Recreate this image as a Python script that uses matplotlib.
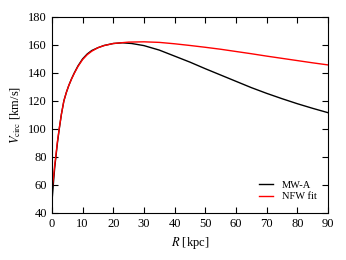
import numpy as np
import matplotlib
matplotlib.use("Agg")
from matplotlib import pyplot as plt

plt.rcParams['font.family'] = ['Liberation Serif', 'DejaVu Serif']
plt.rcParams['mathtext.fontset'] = 'stix'

# MW-A rotation curve
r_mw = [0.05, 0.45, 0.9, 1.3, 1.8, 2.4, 3.1, 3.9, 4.7, 5.5, 6.4, 7.3, 8.5, 10,
        11.5, 13, 15, 17, 20, 23, 26, 30, 35, 40, 45, 50, 55, 60, 65, 70, 75,
        80, 85, 90]
v_mw = [49, 60, 72, 80, 90, 100, 110.5, 120, 126, 131, 135.8, 140, 145, 150,
        153.5, 156, 158, 159.6, 161, 161.5, 161, 159.5, 156.3, 152, 147.7, 143,
        138.5, 134, 129.5, 125.4, 121.6, 118, 114.7, 111.6]

# NFW fit
r_nfw = [0.1, 0.5, 0.9, 1.3, 1.8, 2.4, 3.1, 3.9, 4.7, 5.5, 6.4, 7.3, 8.5, 10,
         11.5, 13, 15, 17, 20, 25, 30, 35, 40, 45, 50, 55, 60, 65, 70, 75, 80,
         85, 90]
v_nfw = [58, 65, 74, 81, 91, 100.5, 110.5, 120, 126, 131, 135.6, 139.7, 144.6,
         149.5, 153, 155.5, 158, 159.5, 161, 162, 162.2, 161.8, 160.8, 159.6,
         158.3, 156.9, 155.3, 153.7, 152, 150.4, 148.8, 147.2, 145.7]

fig = plt.figure(figsize=(3.46, 2.6), dpi=100)
ax = fig.add_axes([0.150, 0.181, 0.798, 0.754])

ax.plot(r_mw, v_mw, color='black', lw=1.0, label='MW-A')
ax.plot(r_nfw, v_nfw, color='red', lw=1.0, label='NFW fit')

ax.set_xlim(0, 90)
ax.set_ylim(40, 180)
ax.set_xticks(np.arange(0, 91, 10))
ax.set_yticks(np.arange(40, 181, 20))
ax.tick_params(direction='in', top=True, right=True, length=4.5, width=0.8,
               labelsize=9)
for s in ax.spines.values():
    s.set_linewidth(0.8)

ax.set_xlabel(r'$R$ [kpc]', fontsize=9)
ax.set_ylabel(r'$V_{\rm circ}$ [km/s]', fontsize=9)

ax.legend(loc='lower right', frameon=False, fontsize=7.5, handlelength=1.4,
          handletextpad=0.8, labelspacing=0.25, borderaxespad=0.7)

fig.savefig('out.png', dpi=100)
